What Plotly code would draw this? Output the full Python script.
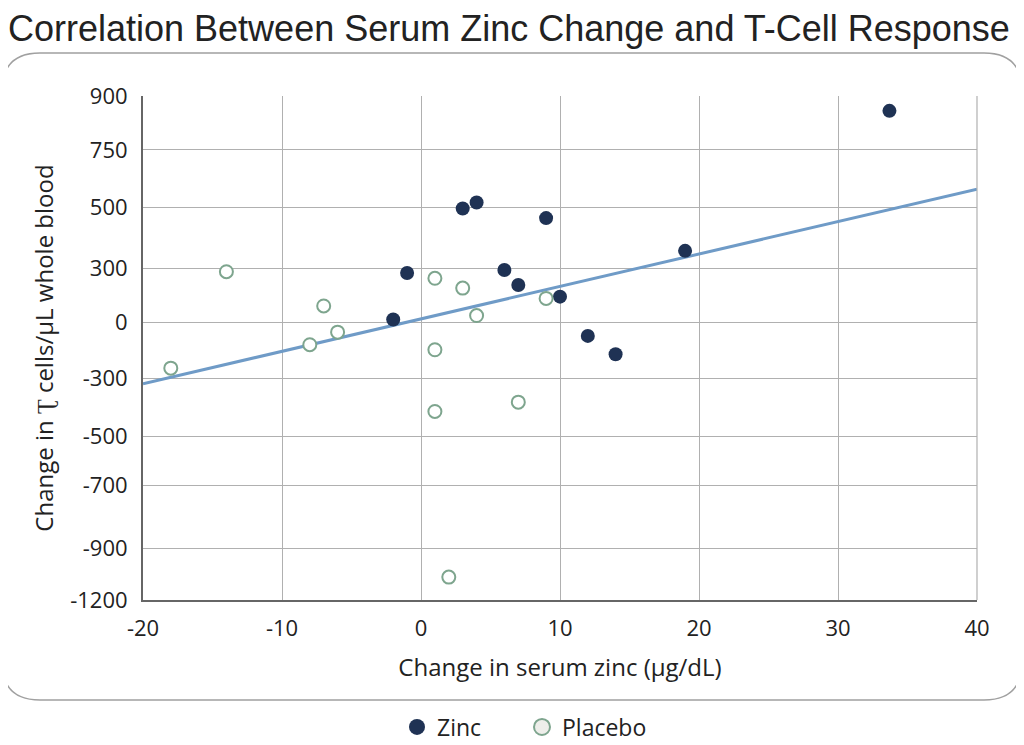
import plotly.graph_objects as go

# ---- data ----
zinc_x = [-2, -1, 3, 4, 9, 6, 7, 10, 12, 14, 19, 33.7]
zinc_y = [12, 197, 453, 477, 415, 209, 149, 103, -53, -126, 285, 841]

placebo_x = [1, 3, 4, 9, 1, 1, 7, 2, -14, -7, -6, -8, -18]
placebo_y = [176, 137, 28, 96, -108, -353, -316, -1011, 202, 66, -38, -88, -181]

fit_x = [-20, 40]
fit_y = [-243, 530]

y_tickvals = [900, 686, 456, 214, 0, -222, -452, -646, -896, -1102]
y_ticktext = ["900", "750", "500", "300", "0", "-300", "-500", "-700", "-900", "-1200"]
x_tickvals = [-20, -10, 0, 10, 20, 30, 40]
x_ticktext = ["-20", "-10", "0", "10", "20", "30", "40"]

FONT = "Open Sans"
ZINC_COLOR = "#1f3254"
PLACEBO_COLOR = "#7ea58e"

fig = go.Figure()
fig.add_trace(go.Scatter(x=fit_x, y=fit_y, mode="lines",
                         line=dict(color="#6f9bc7", width=3),
                         showlegend=False, hoverinfo="skip"))
fig.add_trace(go.Scatter(x=zinc_x, y=zinc_y, mode="markers", name="Zinc",
                         showlegend=False,
                         marker=dict(size=14, color=ZINC_COLOR, line=dict(width=0))))
fig.add_trace(go.Scatter(x=placebo_x, y=placebo_y, mode="markers", name="Placebo",
                         showlegend=False,
                         marker=dict(size=13, color="white",
                                     line=dict(width=2, color=PLACEBO_COLOR))))
# legend entries (larger symbols)
fig.add_trace(go.Scatter(x=[None], y=[None], mode="markers", name="Zinc",
                         marker=dict(size=18, color=ZINC_COLOR, line=dict(width=0))))
fig.add_trace(go.Scatter(x=[None], y=[None], mode="markers", name="Placebo",
                         marker=dict(size=17, color="#eeeeea",
                                     line=dict(width=2, color=PLACEBO_COLOR))))

# screen offset of the figure inside the page
OFF = 8
W, H = 1024, 745
# target on-screen plot box (pixels)
L, R, T, B = 143, 977, 96, 600
def px(x):
    return (x - L) / (R - L)
def py(y):
    return (B - y) / (B - T)
fx0, fx1, fy0, fy1, rad = 2, 1022, 53, 700, 38
path = (f"M {px(fx0+rad)},{py(fy0)} L {px(fx1-rad)},{py(fy0)} "
        f"Q {px(fx1)},{py(fy0)} {px(fx1)},{py(fy0+rad)} "
        f"L {px(fx1)},{py(fy1-rad)} Q {px(fx1)},{py(fy1)} {px(fx1-rad)},{py(fy1)} "
        f"L {px(fx0+rad)},{py(fy1)} Q {px(fx0)},{py(fy1)} {px(fx0)},{py(fy1-rad)} "
        f"L {px(fx0)},{py(fy0+rad)} Q {px(fx0)},{py(fy0)} {px(fx0+rad)},{py(fy0)} Z")

fig.update_layout(
    template="none",
    width=W, height=H,
    margin=dict(l=L - OFF, r=W - (R - OFF), t=T - OFF, b=H - (B - OFF), pad=0),
    paper_bgcolor="white", plot_bgcolor="white",
    font=dict(family=FONT, size=22, color="#222222"),
    title=dict(text="Correlation Between Serum Zinc Change and T-Cell Response",
               x=0.0, xanchor="left", xref="container",
               y=1 - 20 / H, yanchor="middle", yref="container",
               font=dict(family="Liberation Sans", size=36, color="#222222")),
    shapes=[dict(type="path", path=path, xref="paper", yref="paper",
                 line=dict(color="#a0a0a0", width=1.5), layer="below")],
    legend=dict(orientation="h", xref="container", yref="container",
                x=(522 - OFF) / W, xanchor="center",
                y=1 - (727 - OFF) / H, yanchor="middle",
                font=dict(family=FONT, size=23, color="#222222"),
                itemsizing="trace", itemwidth=30, tracegroupgap=0,
                entrywidth=80, entrywidthmode="pixels"),
    showlegend=True,
)
fig.update_xaxes(range=[-20, 40], tickvals=x_tickvals, ticktext=x_ticktext,
                 automargin=False,
                 showgrid=True, gridcolor="#b0b0b0", gridwidth=1.2,
                 showline=True, linecolor="#666666", linewidth=2,
                 zeroline=False, ticks="", mirror=False,
                 ticklabelstandoff=8,
                 tickfont=dict(family=FONT, size=22),
                 title=dict(text="Change in serum zinc (µg/dL)", standoff=18,
                            font=dict(family=FONT, size=24)))
fig.update_yaxes(range=[-1102, 900], tickvals=y_tickvals, ticktext=y_ticktext,
                 automargin=False,
                 showgrid=True, gridcolor="#b0b0b0", gridwidth=1.2,
                 showline=True, linecolor="#666666", linewidth=2,
                 zeroline=False, ticks="",
                 ticklabelstandoff=9,
                 tickfont=dict(family=FONT, size=22),
                 title=dict(text="Change in Ʈ cells/µL whole blood", standoff=10,
                            font=dict(family=FONT, size=24)))
# right border of plot
fig.add_shape(type="line", xref="paper", yref="paper", x0=1, x1=1, y0=0, y1=1,
              line=dict(color="#b0b0b0", width=1.2))

fig.write_html("out.html")
